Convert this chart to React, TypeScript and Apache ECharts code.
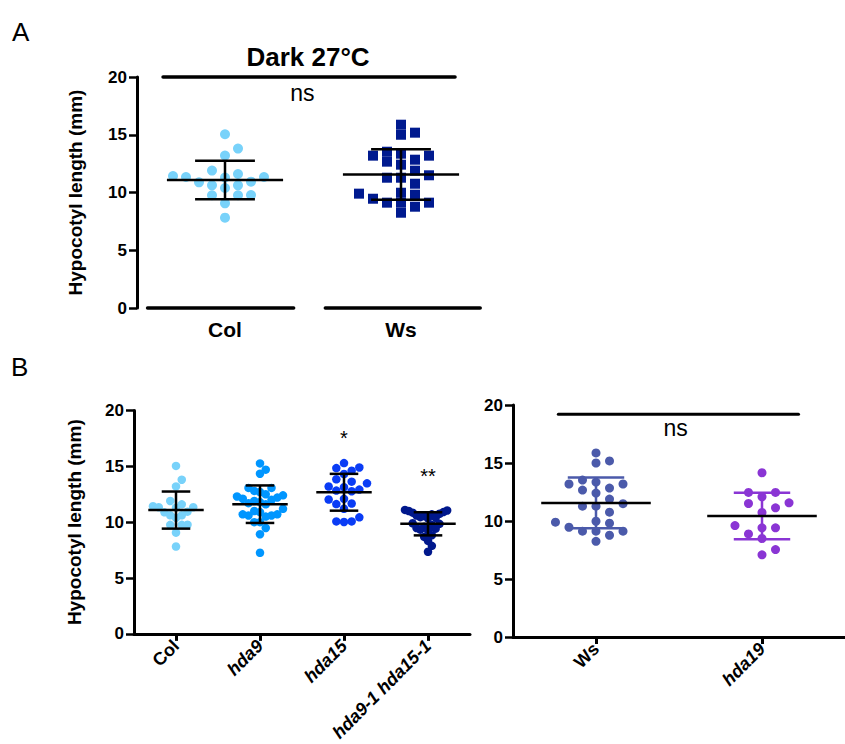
import React, { useEffect, useRef } from "react";
import * as echarts from "echarts";

// ---------------- data ----------------
const panelACategories = ["Col", "Ws"];
const panelBLeftCategories = ["Col", "hda9", "hda15", "hda9-1 hda15-1"];
const panelBRightCategories = ["Ws", "hda19"];
const italicCategories = ["hda9", "hda15", "hda9-1 hda15-1", "hda19"];

const colValues = [15.04, 13.8, 13.2, 11.9, 11.6, 11.43, 11.34, 11.3, 11.34, 10.94, 10.88, 10.62, 10.62, 10.39, 9.78, 9.76, 9.76, 9.06, 7.82];
const wsValues = [15.87, 15.18, 15.0, 13.53, 13.36, 13.19, 13.19, 12.84, 12.67, 12.41, 11.89, 11.49, 11.28, 11.28, 10.76, 9.9, 9.81, 9.98, 9.12, 9.12, 9.46, 9.12, 8.77, 8.25];
const hda9Values = [15.26, 14.7, 14.34, 13.07, 13.07, 12.8, 12.7, 12.5, 12.4, 12.3, 12.2, 12.1, 12.0, 11.9, 11.8, 11.7, 11.6, 11.2, 11.0, 10.9, 10.7, 10.7, 10.6, 10.6, 10.5, 10.0, 10.0, 9.48, 8.92, 7.26];
const hda15Values = [15.29, 14.9, 14.84, 14.6, 14.31, 13.84, 13.63, 13.48, 13.13, 13.19, 12.92, 12.83, 12.77, 12.09, 12.03, 11.67, 11.62, 11.2, 10.07, 10.02, 10.07, 10.43];
const hda9hda15Values = [11.1, 11.0, 10.85, 10.7, 10.55, 10.4, 10.35, 10.45, 10.6, 10.75, 10.9, 11.05, 9.9, 9.85, 9.75, 9.6, 9.42, 9.33, 8.83, 8.68, 9.27, 9.48, 8.33, 7.88, 7.35];
const hda19Values = [14.16, 12.46, 12.46, 12.08, 11.51, 11.57, 11.14, 10.74, 9.41, 9.61, 9.41, 8.89, 8.49, 7.54, 7.08];

const yTickValues = [0, 5, 10, 15, 20];
const significanceBLeft = ["", "", "*", "**"];

// ---------------- style / layout ----------------
const FONT = "'Liberation Sans', Arial, Helvetica, sans-serif";
const W = 845;
const H = 744;
const grids = [
  { left: 137, top: 77, width: 352, height: 231 },
  { left: 134, top: 410.5, width: 336, height: 225.5 },
  { left: 513, top: 405, width: 344, height: 232 },
];
const colors = {
  col: "#78d2fa",
  wsA: "#001a8f",
  wsB: "#4b5aaa",
  hda9: "#0096ff",
  hda15: "#0a3cf5",
  hda9hda15: "#00188c",
  hda19: "#8a35d4",
};

function mean(a: number[]) {
  return a.reduce((s, v) => s + v, 0) / a.length;
}
function sd(a: number[]) {
  const m = mean(a);
  return Math.sqrt(a.reduce((s, v) => s + (v - m) * (v - m), 0) / (a.length - 1));
}

// beeswarm (box-collision dodge on a step lattice)
function swarmSteps(values: number[], hy: number): number[] {
  const order = values.map((_, i) => i).sort((a, b) => values[a] - values[b]);
  const placed: { v: number; s: number }[] = [];
  const steps = new Array(values.length).fill(0);
  let side = 1;
  for (const i of order) {
    const v = values[i];
    const near = placed.filter((p) => Math.abs(p.v - v) < hy);
    const cands = [0];
    near.forEach((p) => cands.push(p.s - 1, p.s + 1));
    const free = cands.filter((c) => near.every((p) => Math.abs(p.s - c) >= 1 - 1e-9));
    free.sort((a, b) => Math.abs(a) - Math.abs(b) || (b - a) * side);
    const s = free[0];
    if (s !== 0) side = s > 0 ? -1 : 1;
    placed.push({ v, s });
    steps[i] = s;
  }
  return steps;
}

function swarm(values: number[], cat: number, bandPx: number, naturalPx: number, capPx: number, hy = 0.85) {
  const steps = swarmSteps(values, hy);
  const maxAbs = Math.max(1, ...steps.map((s) => Math.abs(s)));
  const spacing = Math.min(naturalPx, capPx / maxAbs);
  return values.map((v, i) => [cat + (steps[i] * spacing) / bandPx, v]);
}

function catAxis(gridIndex: number, cats: string[], opts: any) {
  return {
    type: "category",
    gridIndex,
    data: cats.map((c) => ({
      value: c,
      textStyle: { fontStyle: italicCategories.includes(c) ? "italic" : "normal" },
    })),
    boundaryGap: true,
    ...opts,
  };
}

function valAxisX(gridIndex: number, n: number) {
  return { type: "value", gridIndex, min: -0.5, max: n - 0.5, show: false };
}

function yAxis(gridIndex: number, name: string, nameGap: number) {
  return {
    type: "value",
    gridIndex,
    min: yTickValues[0],
    max: yTickValues[yTickValues.length - 1],
    interval: yTickValues[1] - yTickValues[0],
    name,
    nameLocation: "middle",
    nameGap,
    nameTextStyle: { color: "#000", fontWeight: "bold", fontSize: 19, fontFamily: FONT },
    axisLine: { show: true, onZero: false, lineStyle: { color: "#000", width: 3 } },
    axisTick: { show: true, length: 8, lineStyle: { color: "#000", width: 2.5 } },
    axisLabel: { color: "#000", fontWeight: "bold", fontSize: 17, fontFamily: FONT, margin: 10 },
    splitLine: { show: false },
  };
}

function scatter(xi: number, yi: number, data: number[][], color: string, symbol: string, size: number) {
  return {
    type: "scatter",
    xAxisIndex: xi,
    yAxisIndex: yi,
    data,
    symbol,
    symbolSize: size,
    itemStyle: { color, opacity: 1 },
    silent: true,
    z: 2,
  };
}

function errorBars(xi: number, yi: number, groups: number[][], barColors: string[]) {
  return {
    type: "custom",
    xAxisIndex: xi,
    yAxisIndex: yi,
    z: 5,
    silent: true,
    data: groups.map((g, i) => [i, mean(g), sd(g)]),
    renderItem: (params: any, api: any) => {
      const i = api.value(0);
      const m = api.value(1);
      const s = api.value(2);
      const band = api.size([1, 0])[0];
      const [cx, cy] = api.coord([i, m]);
      const top = api.coord([i, m + s])[1];
      const bot = api.coord([i, m - s])[1];
      const cap = band * 0.17;
      const mw = band * 0.33;
      const c = barColors[params.dataIndex];
      const st = { stroke: c, lineWidth: 2.5 };
      return {
        type: "group",
        children: [
          { type: "line", shape: { x1: cx, y1: top, x2: cx, y2: bot }, style: st },
          { type: "line", shape: { x1: cx - cap, y1: top, x2: cx + cap, y2: top }, style: st },
          { type: "line", shape: { x1: cx - cap, y1: bot, x2: cx + cap, y2: bot }, style: st },
          { type: "line", shape: { x1: cx - mw, y1: cy, x2: cx + mw, y2: cy }, style: { stroke: "#000", lineWidth: 2.5 } },
        ],
      };
    },
  };
}

function hLines(xi: number, yi: number, segs: number[][], width: number) {
  return {
    type: "custom",
    xAxisIndex: xi,
    yAxisIndex: yi,
    z: 4,
    silent: true,
    clip: false,
    data: segs,
    renderItem: (params: any, api: any) => {
      const p1 = api.coord([api.value(0), api.value(2)]);
      const p2 = api.coord([api.value(1), api.value(2)]);
      return {
        type: "line",
        shape: { x1: p1[0], y1: p1[1], x2: p2[0], y2: p2[1] },
        style: { stroke: "#000", lineWidth: width, lineCap: "round" },
      };
    },
  };
}

function texts(xi: number, yi: number, items: any[], fontSize: number) {
  return {
    type: "custom",
    xAxisIndex: xi,
    yAxisIndex: yi,
    z: 6,
    silent: true,
    clip: false,
    data: items.map((t) => [t.x, t.y, t.text]),
    renderItem: (params: any, api: any) => {
      const [x, y] = api.coord([api.value(0), api.value(1)]);
      return {
        type: "text",
        x,
        y,
        style: {
          text: items[params.dataIndex].text,
          fill: "#000",
          fontSize,
          fontFamily: FONT,
          textAlign: "center",
          textVerticalAlign: "middle",
          align: "center",
          verticalAlign: "middle",
        },
      };
    },
  };
}

export default function App() {
  const ref = useRef<HTMLDivElement>(null);
  useEffect(() => {
    if (!ref.current) return;
    const chart = echarts.init(ref.current, undefined, { renderer: "svg" });

    const bandA = grids[0].width / panelACategories.length;
    const bandBL = grids[1].width / panelBLeftCategories.length;
    const bandBR = grids[2].width / panelBRightCategories.length;

    const bLeftGroups = [colValues, hda9Values, hda15Values, hda9hda15Values];
    const bLeftColors = [colors.col, colors.hda9, colors.hda15, colors.hda9hda15];

    const bAxisLabel = { color: "#000", fontWeight: "bold", fontSize: 18, fontFamily: FONT, rotate: 45, margin: 9, interval: 0 };

    const option: any = {
      animation: false,
      backgroundColor: "#fff",
      grid: grids.map((g) => ({ ...g, containLabel: false })),
      xAxis: [
        catAxis(0, panelACategories, {
          axisLine: { show: false },
          axisTick: { show: false },
          axisLabel: { color: "#000", fontWeight: "bold", fontSize: 21, fontFamily: FONT, margin: 11 },
        }),
        valAxisX(0, panelACategories.length),
        catAxis(1, panelBLeftCategories, {
          axisLine: { show: true, onZero: false, lineStyle: { color: "#000", width: 3 } },
          axisTick: { show: true, alignWithLabel: true, length: 7, lineStyle: { color: "#000", width: 3 } },
          axisLabel: bAxisLabel,
        }),
        valAxisX(1, panelBLeftCategories.length),
        catAxis(2, panelBRightCategories, {
          axisLine: { show: true, onZero: false, lineStyle: { color: "#000", width: 3 } },
          axisTick: { show: true, alignWithLabel: true, length: 7, lineStyle: { color: "#000", width: 3 } },
          axisLabel: bAxisLabel,
        }),
        valAxisX(2, panelBRightCategories.length),
      ],
      yAxis: [
        yAxis(0, "Hypocotyl length (mm)", 52),
        yAxis(1, "Hypocotyl length (mm)", 50),
        yAxis(2, "", 40),
      ],
      graphic: [
        { type: "text", x: 12, y: 19, style: { text: "A", fontSize: 26, fontFamily: FONT, fill: "#000" } },
        { type: "text", x: 11, y: 354, style: { text: "B", fontSize: 26, fontFamily: FONT, fill: "#000" } },
        {
          type: "text",
          x: 308,
          y: 57,
          style: {
            text: "Dark 27°C",
            fontSize: 26,
            fontWeight: "bold",
            fontFamily: FONT,
            fill: "#000",
            textAlign: "center",
            textVerticalAlign: "middle",
            align: "center",
            verticalAlign: "middle",
          },
        },
      ],
      series: [
        // Panel A
        scatter(1, 0, swarm(colValues, 0, bandA, 13, 53), colors.col, "circle", 10),
        scatter(1, 0, swarm(wsValues, 1, bandA, 14, 53), colors.wsA, "rect", 10),
        errorBars(1, 0, [colValues, wsValues], ["#000", "#000"]),
        hLines(1, 0, [[-0.44, 0.39, 0], [0.57, 1.45, 0], [-0.352, 1.307, 20]], 3.5),
        texts(1, 0, [{ x: 0.44, y: 18.6, text: "ns" }], 23),
        // Panel B left
        ...bLeftGroups.map((g, i) => scatter(3, 1, swarm(g, i, bandBL, 11, 23), bLeftColors[i], "circle", 8.5)),
        errorBars(3, 1, bLeftGroups, ["#000", "#000", "#000", "#000"]),
        texts(
          3,
          1,
          significanceBLeft
            .map((t, i) => ({ x: i, y: mean(bLeftGroups[i]) + sd(bLeftGroups[i]) + 3.2, text: t }))
            .filter((t) => t.text),
          20
        ),
        // Panel B right
        scatter(5, 2, swarm(wsValues, 0, bandBR, 14, 50), colors.wsB, "circle", 9),
        scatter(5, 2, swarm(hda19Values, 1, bandBR, 14, 50), colors.hda19, "circle", 9),
        errorBars(5, 2, [wsValues, hda19Values], [colors.wsB, colors.hda19]),
        hLines(5, 2, [[-0.227, 1.22, 19.2]], 3),
        texts(5, 2, [{ x: 0.48, y: 18.0, text: "ns" }], 23),
      ],
    };
    chart.setOption(option);
    return () => chart.dispose();
  }, []);
  return <div ref={ref} style={{ position: "absolute", left: 0, top: 0, width: W, height: H }} />;
}
